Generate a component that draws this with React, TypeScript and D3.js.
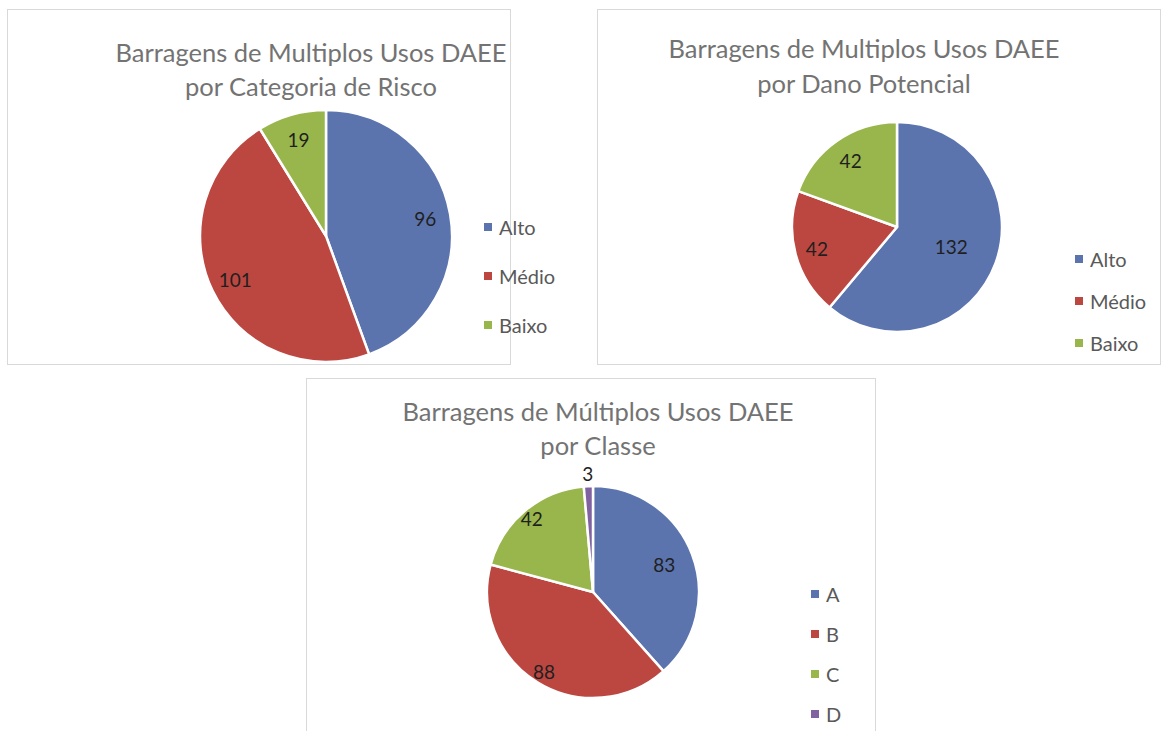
import React from 'react';
import * as d3 from 'd3';

// data
const riskCategories = ['Alto', 'Médio', 'Baixo'];
const riskValues = [96, 101, 19];

const damageCategories = ['Alto', 'Médio', 'Baixo'];
const damageValues = [132, 42, 42];

const classCategories = ['A', 'B', 'C', 'D'];
const classValues = [83, 88, 42, 3];

const sliceColors = ['#5B74AE', '#BC4741', '#98B64B', '#8062A0'];

const FONT = 'Lato, "Open Sans", sans-serif';

type ChartProps = {
  box: [number, number, number, number];
  title: string[];
  titleX: number;
  titleY: number[];
  categories: string[];
  values: number[];
  cx: number;
  cy: number;
  r: number;
  labelK: number[];
  legendX: number;
  legendY: number[];
};

const PieChart = (p: ChartProps) => {
  const pie = d3.pie<number>().sort(null).value(d => d);
  const arcs = pie(p.values);
  const arc = d3.arc<d3.PieArcDatum<number>>().innerRadius(0).outerRadius(p.r);
  const color = d3.scaleOrdinal<string, string>().domain(p.categories).range(sliceColors);

  const [bx, by, bw, bh] = p.box;
  return (
    <g>
      <rect x={bx + 0.5} y={by + 0.5} width={bw} height={bh} fill="#fff" stroke="#d9d9d9" strokeWidth={1} />
      {p.title.map((t, i) => (
        <text key={i} x={p.titleX} y={p.titleY[i]} textAnchor="middle" dominantBaseline="central"
          fill="#737373" fontSize={25.5} fontFamily={FONT}>{t}</text>
      ))}
      <g transform={`translate(${p.cx},${p.cy})`}>
        {arcs.map((a, i) => (
          <path key={i} d={arc(a) || ''} fill={color(p.categories[i])} stroke="#fff" strokeWidth={2.5} strokeLinejoin="round" />
        ))}
        {arcs.map((a, i) => {
          const lr = p.r * p.labelK[i];
          const c = d3.arc<d3.PieArcDatum<number>>().innerRadius(lr).outerRadius(lr).centroid(a);
          return (
            <text key={'l' + i} x={c[0]} y={c[1]} textAnchor="middle" dominantBaseline="central"
              fill="#1f1f1f" fontSize={19} fontFamily={FONT}>{p.values[i]}</text>
          );
        })}
      </g>
      {p.categories.map((c, i) => (
        <g key={c} transform={`translate(${p.legendX},${p.legendY[i]})`}>
          <rect x={-4} y={-4} width={8} height={8} fill={color(c)} />
          <text x={11} y={0} dominantBaseline="central" fill="#595959" fontSize={20} fontFamily={FONT}>{c}</text>
        </g>
      ))}
    </g>
  );
};

export default function App() {
  return (
    <svg width={1165} height={731} style={{ position: 'absolute', left: 0, top: 0, background: '#fff' }}>
      <PieChart
        box={[7, 9, 503, 355]}
        title={['Barragens de Multiplos Usos DAEE', 'por Categoria de Risco']}
        titleX={311} titleY={[52, 86]}
        categories={riskCategories} values={riskValues}
        cx={326} cy={236} r={126}
        labelK={[0.8, 0.8, 0.8]}
        legendX={488} legendY={[227, 276, 325]}
      />
      <PieChart
        box={[597, 9, 563, 355]}
        title={['Barragens de Multiplos Usos DAEE', 'por Dano Potencial']}
        titleX={864} titleY={[48, 83]}
        categories={damageCategories} values={damageValues}
        cx={897} cy={227} r={105}
        labelK={[0.55, 0.79, 0.77]}
        legendX={1079} legendY={[259, 301, 343]}
      />
      <PieChart
        box={[306, 378, 569, 360]}
        title={['Barragens de Múltiplos Usos DAEE', 'por Classe']}
        titleX={598} titleY={[411, 445]}
        categories={classCategories} values={classValues}
        cx={593} cy={592} r={106}
        labelK={[0.72, 0.88, 0.9, 1.12]}
        legendX={815} legendY={[594, 634, 674, 714]}
      />
    </svg>
  );
}
